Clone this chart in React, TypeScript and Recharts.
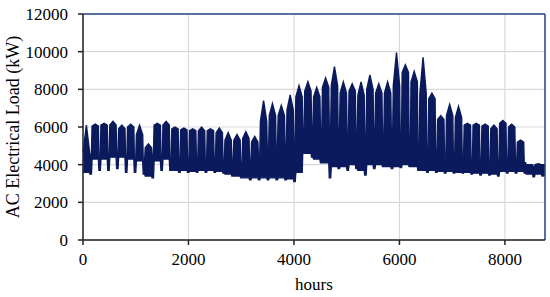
import { ComposedChart, Area, XAxis, YAxis, CartesianGrid, ReferenceLine, Label } from "recharts"

// weekly readings (kW) off the plot, week 0..51
const weekPeak = [
  6100, 6150, 6200, 6300, 6100, 6150, 6100, 5100, 6200, 6300,
  6000, 5950, 5900, 6000, 5900, 5950, 5700, 5600, 5750, 5500,
  7400, 7250, 7150, 7700, 8200, 8400, 8100, 8600, 9200, 8400,
  8300, 8400, 8760, 8300, 8400, 9950, 9300, 8950, 9700, 7800,
  6600, 7200, 7100, 6200, 6200, 6150, 6100, 6350, 6150, 5300,
  4000, 4050,
]
const weekEdge = [
  4700, 6050, 6100, 6100, 5900, 6000, 5600, 4900, 6100, 6100,
  5900, 5850, 5800, 5800, 5800, 5700, 5300, 5300, 5400, 5200,
  6300, 6600, 6600, 6900, 7600, 7900, 7600, 8100, 8200, 7800,
  7900, 7700, 8000, 7800, 7800, 8200, 8900, 8400, 7800, 7500,
  6400, 6600, 6500, 6100, 6100, 6050, 5900, 6200, 6000, 5200,
  4000, 4000,
]
const weekLow = [
  3600, 4300, 4300, 4400, 4400, 4300, 4200, 3400, 4200, 4300,
  3700, 3700, 3650, 3700, 3700, 3650, 3500, 3400, 3300, 3300,
  3300, 3300, 3300, 3250, 3600, 4600, 4300, 4100, 3900, 3900,
  4000, 3700, 4000, 4000, 3900, 3900, 4000, 3900, 3700, 3700,
  3650, 3650, 3600, 3600, 3550, 3550, 3500, 3650, 3650, 3650,
  3500, 3500,
]
const wkndHigh = [
  4500, 4400, 4500, 4600, 4400, 4300, 4200, 4500, 4400, 4300,
  4300, 4200, 4300, 4200, 4300, 4200, 4200, 4000, 4200, 4500,
  4800, 4900, 5000, 5200, 5900, 6000, 5800, 5900, 5800, 5600,
  5700, 5500, 5800, 5600, 5700, 5600, 5400, 5100, 4800, 4600,
  4400, 4500, 4400, 4200, 4200, 4100, 4100, 4200, 4200, 4100,
  3900, 4000,
]
const wkndLow = [
  3500, 3700, 3700, 3800, 3600, 3600, 3500, 3300, 3700, 3700,
  3600, 3600, 3600, 3600, 3600, 3550, 3400, 3300, 3200, 3200,
  3200, 3200, 3200, 3100, 4600, 4400, 4100, 3300, 3800, 3700,
  3800, 3450, 3800, 3900, 3800, 3850, 3900, 3700, 3600, 3600,
  3550, 3550, 3550, 3500, 3450, 3450, 3400, 3550, 3550, 3550,
  3350, 3400,
]
const endRange = [3500, 4000]

const xTicks = [0, 2000, 4000, 6000, 8000]
const yTicks = [0, 2000, 4000, 6000, 8000, 10000, 12000]

const data: { hour: number; range: number[] }[] = []
weekPeak.forEach((peak, w) => {
  const h0 = w * 168
  data.push({ hour: h0 + 4, range: [weekLow[w], weekEdge[w]] })
  data.push({ hour: h0 + 64, range: [weekLow[w], peak] })
  data.push({ hour: h0 + 124, range: [weekLow[w], weekEdge[w]] })
  data.push({ hour: h0 + 134, range: [wkndLow[w], wkndHigh[w]] })
  data.push({ hour: h0 + 160, range: [wkndLow[w], wkndHigh[w]] })
})
data.push({ hour: 8760, range: endRange })

const font = { fontFamily: "Liberation Serif", fontSize: 17, fill: "#000" }
const navy = "#0b1a5c"

export default function App() {
  return (
    <div style={{ position: "absolute", left: 0, top: 0, background: "#fff" }}>
      <ComposedChart width={550} height={297} data={data} margin={{ top: 14, right: 5, left: 0, bottom: 0 }}>
        <CartesianGrid stroke="#d9d9d9" strokeWidth={1.2} />
        <XAxis
          type="number"
          dataKey="hour"
          domain={[0, 8760]}
          ticks={xTicks}
          height={57}
          stroke="#222"
          strokeWidth={1.5}
          tickSize={5}
          tickMargin={8}
          tick={font}
        >
          <Label value="hours" position="insideBottom" offset={7} style={font} />
        </XAxis>
        <YAxis
          type="number"
          domain={[0, 12000]}
          ticks={yTicks}
          width={83}
          stroke="#222"
          strokeWidth={1.5}
          tickSize={5}
          tickMargin={10}
          tick={font}
        >
          <Label
            value="AC Electrical Load (kW)"
            angle={-90}
            position="insideLeft"
            offset={13}
            style={{ ...font, fontSize: 18, textAnchor: "middle" }}
          />
        </YAxis>
        <Area
          type="linear"
          dataKey="range"
          stroke={navy}
          strokeWidth={1.4}
          fill={navy}
          fillOpacity={1}
          isAnimationActive={false}
          dot={false}
          activeDot={false}
        />
        <ReferenceLine y={12000} stroke="#2a4788" strokeWidth={1.5} />
        <ReferenceLine x={8760} stroke="#2a4788" strokeWidth={1.5} />
      </ComposedChart>
    </div>
  )
}
